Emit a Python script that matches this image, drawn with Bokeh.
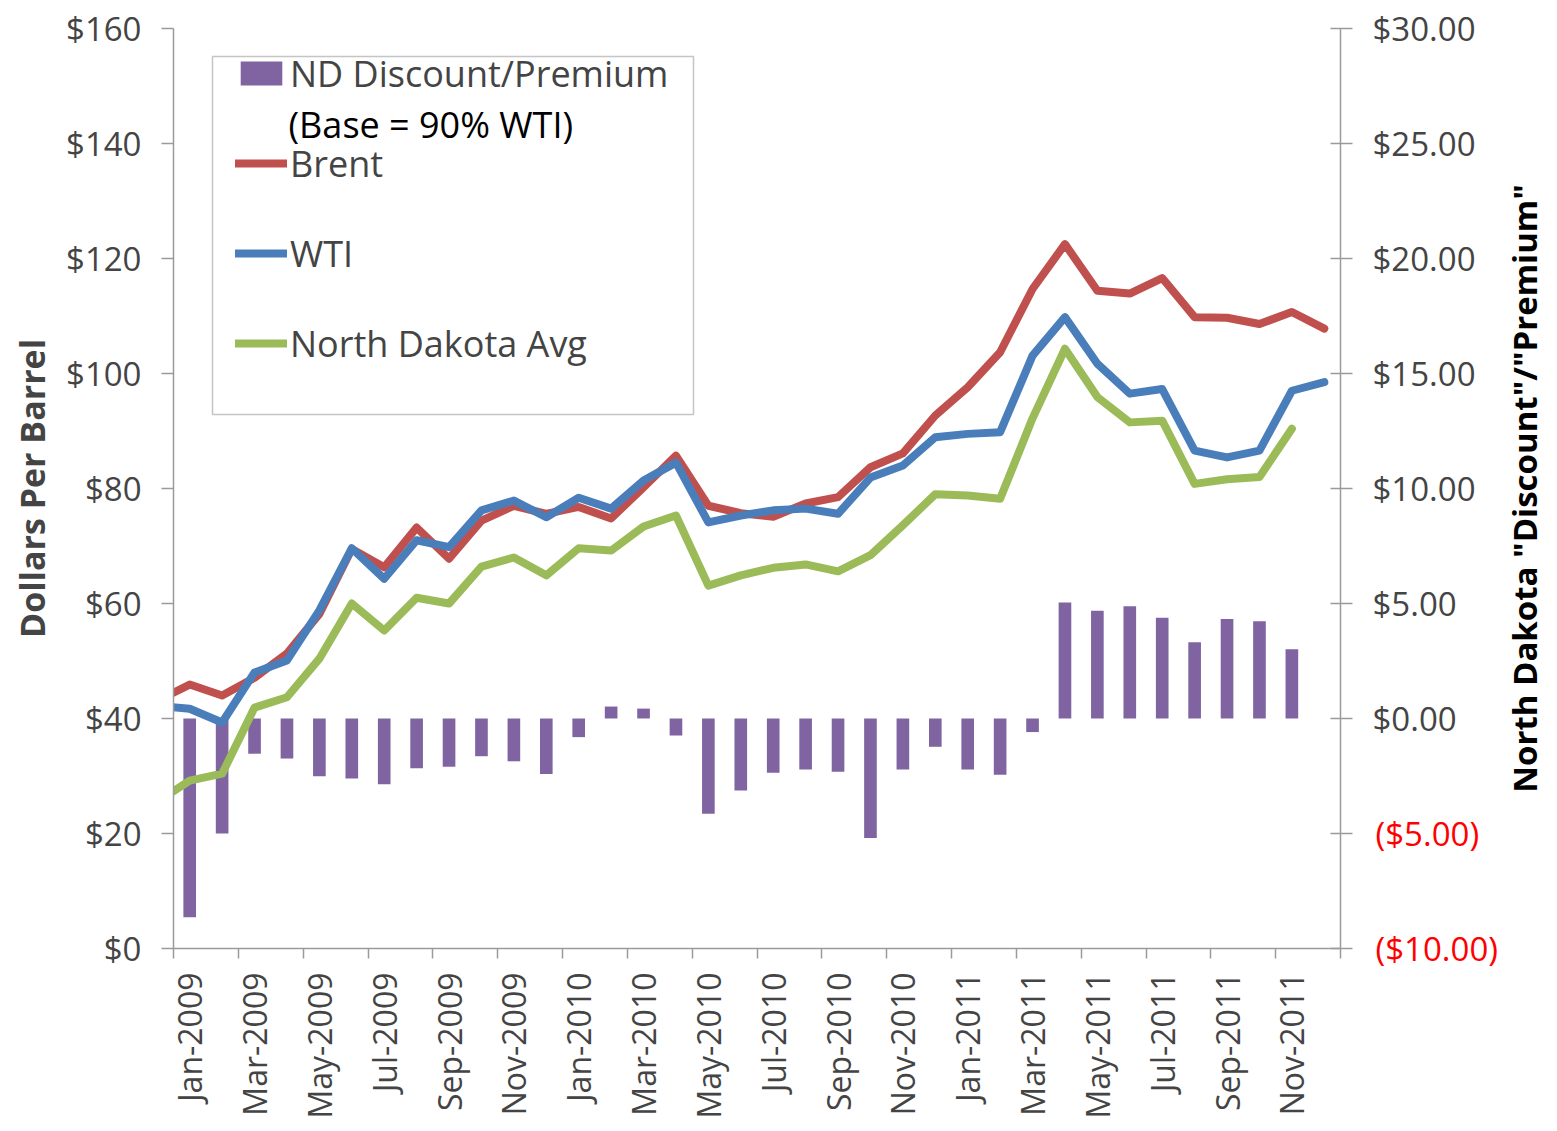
import math
import numpy as np
from bokeh.plotting import figure
from bokeh.models import (Range1d, LinearAxis, FixedTicker, Legend, LegendItem,
                          Label, BoxAnnotation, ColumnDataSource)
from bokeh.embed import file_html
from bokeh.resources import INLINE

# ---- data ----
months = ["Dec-2008",
          "Jan-2009", "Feb-2009", "Mar-2009", "Apr-2009", "May-2009", "Jun-2009",
          "Jul-2009", "Aug-2009", "Sep-2009", "Oct-2009", "Nov-2009", "Dec-2009",
          "Jan-2010", "Feb-2010", "Mar-2010", "Apr-2010", "May-2010", "Jun-2010",
          "Jul-2010", "Aug-2010", "Sep-2010", "Oct-2010", "Nov-2010", "Dec-2010",
          "Jan-2011", "Feb-2011", "Mar-2011", "Apr-2011", "May-2011", "Jun-2011",
          "Jul-2011", "Aug-2011", "Sep-2011", "Oct-2011", "Nov-2011", "Dec-2011"]

brent = [43.1,
         45.9, 44.0, 47.1, 51.3, 58.2, 69.5, 66.3, 73.2, 67.8, 74.4, 77.0, 75.6,
         76.8, 74.8, 80.2, 85.7, 77.0, 75.7, 75.1, 77.4, 78.5, 83.7, 86.1, 92.7,
         97.6, 103.7, 114.7, 122.5, 114.4, 113.9, 116.6, 109.8, 109.7, 108.6, 110.7, 107.8]

wti = [42.2,
       41.7, 39.3, 48.0, 50.1, 58.8, 69.6, 64.3, 71.0, 69.8, 76.2, 77.9, 75.0,
       78.4, 76.5, 81.4, 84.5, 74.1, 75.3, 76.2, 76.5, 75.6, 81.9, 84.0, 88.9,
       89.5, 89.8, 103.1, 109.8, 101.7, 96.5, 97.3, 86.6, 85.4, 86.6, 97.0, 98.5]

nd_avg = [25.5,
          29.2, 30.4, 41.9, 43.7, 50.4, 60.0, 55.3, 61.0, 60.0, 66.4, 68.0, 64.9,
          69.6, 69.2, 73.4, 75.3, 63.1, 64.9, 66.2, 66.8, 65.6, 68.4, 73.6, 79.0,
          78.8, 78.2, 92.2, 104.3, 95.9, 91.5, 91.8, 80.8, 81.6, 82.0, 90.4, float("nan")]

nd_discount = [float("nan"),
               -8.64, -5.00, -1.53, -1.74, -2.51, -2.61, -2.86, -2.16, -2.10, -1.64, -1.86, -2.41,
               -0.81, 0.52, 0.43, -0.74, -4.14, -3.13, -2.36, -2.22, -2.32, -5.20, -2.22, -1.23,
               -2.22, -2.45, -0.59, 5.04, 4.68, 4.88, 4.38, 3.32, 4.33, 4.23, 3.01, float("nan")]

x_tick_labels = ["Jan-2009", "Mar-2009", "May-2009", "Jul-2009", "Sep-2009", "Nov-2009",
                 "Jan-2010", "Mar-2010", "May-2010", "Jul-2010", "Sep-2010", "Nov-2010",
                 "Jan-2011", "Mar-2011", "May-2011", "Jul-2011", "Sep-2011", "Nov-2011"]
left_ticks = [0, 20, 40, 60, 80, 100, 120, 140, 160]
left_tick_labels = ["$0", "$20", "$40", "$60", "$80", "$100", "$120", "$140", "$160"]
right_ticks = [-10, -5, 0, 5, 10, 15, 20, 25, 30]
right_tick_labels = ["($10.00)", "($5.00)", "$0.00", "$5.00", "$10.00", "$15.00",
                     "$20.00", "$25.00", "$30.00"]

# ---- styling ----
FONT = "Open Sans"
C_BRENT, C_WTI, C_ND, C_BAR = "#C0504D", "#4A7EBB", "#9BBB59", "#8064A2"
GRID = "#B2B2B2"
AXIS = "#9A9A9A"

x = np.arange(len(months)) - 0.5   # month centres; Jan-2009 at 0.5
src = ColumnDataSource(dict(x=x, brent=brent, wti=wti, nd=nd_avg, disc=nd_discount))

p = figure(width=1549, height=1123, output_backend="svg", toolbar_location=None,
           x_range=Range1d(0, 36), y_range=Range1d(0, 160),
           min_border_left=173, min_border_right=209, min_border_top=28, min_border_bottom=175,
           x_axis_type=None, y_axis_type=None)
p.outline_line_color = None
p.background_fill_color = "white"
p.extra_y_ranges = {"right": Range1d(-10, 30)}

# left axis
yl = LinearAxis(ticker=FixedTicker(ticks=left_ticks),
                major_label_overrides=dict(zip(left_ticks, left_tick_labels)),
                axis_label="Dollars Per Barrel")
yl.axis_label_text_font = FONT
yl.axis_label_text_font_size = "34px"
yl.axis_label_text_font_style = "bold"
yl.axis_label_standoff = 8
yl.major_label_text_font = FONT
yl.major_label_text_font_size = "33px"
yl.major_label_standoff = 20
yl.major_tick_out = 12
yl.major_tick_in = 0
yl.minor_tick_line_color = None
yl.axis_line_color = AXIS
yl.major_tick_line_color = AXIS
yl.axis_line_width = 1.5
yl.major_tick_line_width = 1.5
p.add_layout(yl, "left")

# right axis: line, ticks and the black (non-negative) labels
pos_labels = {t: (lab if t >= 0 else "") for t, lab in zip(right_ticks, right_tick_labels)}
yr = LinearAxis(y_range_name="right", ticker=FixedTicker(ticks=right_ticks),
                major_label_overrides=pos_labels)
yr.major_label_text_font = FONT
yr.major_label_text_font_size = "33px"
yr.major_label_standoff = 20
yr.major_tick_out = 12
yr.major_tick_in = 10
yr.minor_tick_line_color = None
yr.axis_line_color = AXIS
yr.major_tick_line_color = AXIS
yr.axis_line_width = 1.5
yr.major_tick_line_width = 1.5
p.add_layout(yr, "right")

# second right axis: the red negative labels, pulled back under the first axis
neg_ticks = [t for t in right_ticks if t < 0]
neg_labels = {t: lab for t, lab in zip(right_ticks, right_tick_labels) if t < 0}
yr2 = LinearAxis(y_range_name="right", ticker=FixedTicker(ticks=neg_ticks),
                 major_label_overrides=neg_labels)
yr2.major_label_text_font = FONT
yr2.major_label_text_font_size = "33px"
yr2.major_label_text_color = "#FF0000"
yr2.major_label_standoff = -103
yr2.major_tick_out = 0
yr2.major_tick_in = 0
yr2.major_tick_line_color = None
yr2.minor_tick_line_color = None
yr2.axis_line_color = None
p.add_layout(yr2, "right")

# right axis title (side-panel label, reads bottom to top)
p.add_layout(Label(x=36, y=80, x_offset=184, text='North Dakota "Discount"/"Premium"',
                   angle=math.pi / 2, text_align="center", text_baseline="middle",
                   text_font=FONT, text_font_size="33px", text_font_style="bold",
                   text_color="black"), "right")

# bottom axis: labels on odd months, tick marks between category pairs
label_pos = [2 * k + 0.5 for k in range(len(x_tick_labels))]
xb = LinearAxis(ticker=FixedTicker(ticks=label_pos, minor_ticks=list(range(0, 37, 2))),
                major_label_overrides=dict(zip(label_pos, x_tick_labels)))
xb.major_label_orientation = math.pi / 2
xb.major_label_text_font = FONT
xb.major_label_text_font_size = "32px"
xb.major_label_standoff = 14
xb.major_tick_out = 0
xb.major_tick_in = 0
xb.major_tick_line_color = None
xb.minor_tick_out = 10
xb.minor_tick_in = 0
xb.minor_tick_line_color = AXIS
xb.minor_tick_line_width = 1.5
xb.axis_line_color = AXIS
xb.axis_line_width = 1.5
p.add_layout(xb, "below")

p.ygrid.ticker = FixedTicker(ticks=left_ticks)
p.ygrid.grid_line_color = GRID
p.ygrid.grid_line_width = 1.5
p.xgrid.grid_line_color = None

# glyphs
bars = p.vbar(x="x", top="disc", bottom=0, width=0.39, source=src, y_range_name="right",
              fill_color=C_BAR, line_color=None)
lb = p.line("x", "brent", source=src, line_color=C_BRENT, line_width=8,
            line_join="round", line_cap="round")
lw = p.line("x", "wti", source=src, line_color=C_WTI, line_width=8,
            line_join="round", line_cap="round")
ln = p.line("x", "nd", source=src, line_color=C_ND, line_width=8,
            line_join="round", line_cap="round")

# legend box
box = BoxAnnotation(left=39, right=520, top=892, bottom=534,
                    left_units="screen", right_units="screen",
                    top_units="screen", bottom_units="screen",
                    fill_color="white", fill_alpha=1.0,
                    line_color="#404040", line_width=1.5)
p.add_layout(box)

legend = Legend(items=[LegendItem(label="ND Discount/Premium", renderers=[bars]),
                       LegendItem(label="Brent", renderers=[lb]),
                       LegendItem(label="WTI", renderers=[lw]),
                       LegendItem(label="North Dakota Avg", renderers=[ln])],
                location=(62, 580), padding=0, spacing=40, label_height=50,
                glyph_height=30, glyph_width=52, label_standoff=3,
                label_text_font=FONT, label_text_font_size="36px",
                background_fill_alpha=0, border_line_color=None)
p.add_layout(legend)

p.add_layout(Label(x=115, y=824, x_units="screen", y_units="screen",
                   text="(Base = 90% WTI)", text_align="left", text_baseline="middle",
                   text_font=FONT, text_font_size="36px", text_color="black"))

open("out.html", "w").write(file_html(p, INLINE))
